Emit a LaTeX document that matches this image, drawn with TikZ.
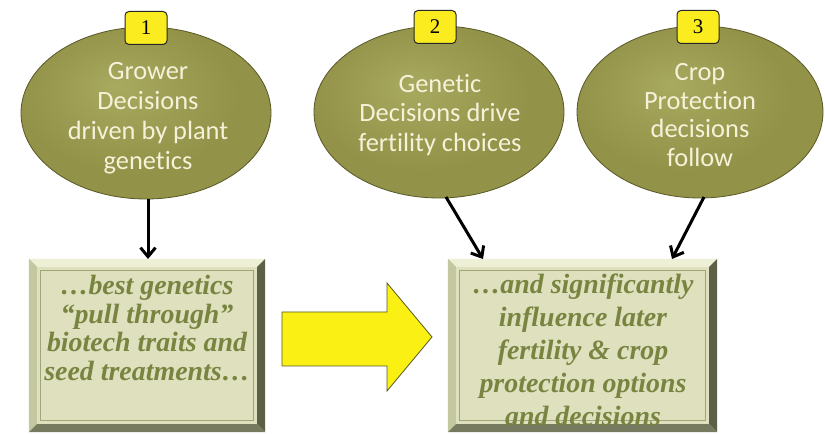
\documentclass[tikz,border=0pt]{standalone}
\usepackage{fontspec}
\setmainfont{Liberation Serif}
\newfontfamily\calib[Ligatures={NoCommon}]{Carlito}
\usetikzlibrary{calc,arrows.meta,shapes.geometric}
\definecolor{olmain}{RGB}{146,146,72}
\definecolor{ollight}{RGB}{168,170,96}
\definecolor{oldark}{RGB}{88,88,40}
\definecolor{creamtxt}{RGB}{246,242,218}
\definecolor{boxfill}{RGB}{222,224,190}
\definecolor{boxlight}{RGB}{238,240,214}
\definecolor{boxmid}{RGB}{196,200,160}
\definecolor{boxdark}{RGB}{92,96,70}
\definecolor{boxline}{RGB}{160,166,120}
\definecolor{boxtxt}{RGB}{120,132,64}
\definecolor{badgey}{RGB}{250,236,30}
\definecolor{bigy}{RGB}{250,240,20}
\pgfdeclareradialshading{ellshade}{\pgfpoint{-6bp}{8bp}}{color(0bp)=(ollight); color(22bp)=(olmain); color(43bp)=(olmain); color(48bp)=(oldark); color(50bp)=(oldark)}
\tikzset{
  ellnode/.style={ellipse, minimum width=250bp, minimum height=172bp, shading=ellshade, draw=oldark, line width=0.8bp},
  elltext/.style={text=creamtxt, align=center, font=\calib\fontsize{26.5}{30}\selectfont},
  badge/.style={rectangle, rounded corners=4bp, minimum width=42bp, minimum height=33bp, fill=badgey, draw=black!85, line width=1bp, font=\fontsize{21}{22}\selectfont, inner sep=0pt},
  boxnode/.style={rectangle, minimum width=#1, minimum height=173bp, fill=boxfill, inner sep=0pt},
  boxtext/.style={text=boxtxt, align=center, font=\bfseries\itshape\fontsize{28}{#1}\selectfont},
  conn/.style={line width=3bp, -{Straight Barb[length=9bp,width=15bp,line width=3bp]}},
}
\newcommand{\bevelbox}[1]{%
  \fill[boxlight] (#1.north west) -- (#1.north east) -- ($(#1.north east)+(-8,8)$) -- ($(#1.north west)+(8,8)$) -- cycle;
  \fill[boxmid] (#1.north west) -- ($(#1.north west)+(8,8)$) -- ($(#1.south west)+(8,-8)$) -- (#1.south west) -- cycle;
  \fill[boxdark] (#1.north east) -- (#1.south east) -- ($(#1.south east)+(-8,-8)$) -- ($(#1.north east)+(-8,8)$) -- cycle;
  \fill[boxdark!80!boxfill] (#1.south west) -- (#1.south east) -- ($(#1.south east)+(-8,-8)$) -- ($(#1.south west)+(8,-8)$) -- cycle;
  \draw[boxline, line width=0.8bp] ($(#1.north west)+(12,12)$) rectangle ($(#1.south east)+(-12,-12)$);
}
\begin{document}
\begin{tikzpicture}[x=1bp,y=-1bp]
\useasboundingbox[fill=white] (0,0) rectangle (825,434);
% ellipses
\node[ellnode] (e1) at (146,113) {};
\node[ellnode] (e2) at (439,112) {};
\node[ellnode, minimum width=246bp] (e3) at (700,112) {};
\node[elltext] (t1) at (148,118) {Grower\\Decisions\\driven by plant\\genetics};
\node[elltext] (t2) at (440,115) {Genetic\\Decisions drive\\fertility choices};
\node[elltext, font=\calib\fontsize{26.5}{29}\selectfont] (t3) at (700,115) {Crop\\Protection\\decisions\\follow};
% badges
\node[badge] (n1) at (146,28) {1};
\node[badge] (n2) at (435,27) {2};
\node[badge] (n3) at (698,27) {3};
% boxes
\node[boxnode=236bp] (b1) at (147,345.5) {};
\bevelbox{b1}
\node[boxnode=269bp] (b2) at (582.5,345.5) {};
\bevelbox{b2}
\node[boxtext=29] (bt1) at (147,328) {…best genetics\\“pull through”\\biotech traits and\\seed treatments…};
\node[boxtext=33] (bt2) at (583,350) {…and significantly\\influence later\\fertility \& crop\\protection options\\and decisions};
% connectors
\coordinate (c1a) at (148,199);
\coordinate (c1b) at (148,259);
\coordinate (c2a) at (446,197);
\coordinate (c2b) at (483,259);
\coordinate (c3a) at (704,197);
\coordinate (c3b) at (672,259);
\draw[conn] (c1a) -- (c1b);
\draw[conn] (c2a) -- (c2b);
\draw[conn] (c3a) -- (c3b);
% big yellow arrow
\fill[bigy, draw=oldark, line width=0.8bp] (282,312) -- (387,312) -- (387,283) -- (432,337) -- (387,391) -- (387,366) -- (282,366) -- cycle;
\end{tikzpicture}
\end{document}
